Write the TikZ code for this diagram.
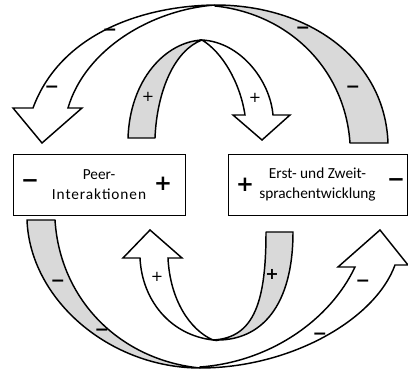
\documentclass[tikz,border=0pt]{standalone}
\usepackage{fontspec}
\setmainfont{Carlito}
\newfontfamily\signfont{DejaVu Sans}
\usetikzlibrary{positioning}

\begin{document}
\begin{tikzpicture}[
    x=0.75pt, y=-0.75pt,
    band/.style={draw, line width=1.1pt, line join=round, fill=gray!30},
    front/.style={draw, line width=1.1pt, line join=miter, fill=white},
    box/.style={rectangle, draw, thin, fill=white, minimum height=45.75pt, align=center, font=\fontsize{11.5}{14.5}\selectfont},
    bigsign/.style={font=\signfont\bfseries\fontsize{16}{16}\selectfont, inner sep=0pt},
    minus/.style={font=\signfont\bfseries\fontsize{13}{13}\selectfont, inner sep=0pt},
    plus/.style={font=\signfont\fontsize{11}{11}\selectfont, inner sep=0pt}
]
\useasboundingbox (0,0) rectangle (408,373);

% ================= TOP ARROWS =================
% outer ribbon: shaded back on the right, white front with head on the left
\draw[band] (215,5) .. controls (310,5) and (385,60) .. (388,143)
    -- (350,143) .. controls (345,70) and (290,14) .. (215,6) -- cycle;
\draw[front] (33,108) .. controls (60,35) and (140,6) .. (215,5)
    .. controls (150,10) and (85,50) .. (68,108)
    -- (82,108) -- (42,143) -- (13,108) -- cycle;

% inner ribbon: shaded on the left, head on the right
\draw[band] (128,138) .. controls (130,80) and (165,42) .. (202,40)
    .. controls (175,50) and (157,90) .. (155,138) -- cycle;
\draw[front] (202,40) .. controls (240,42) and (270,80) .. (273,115)
    -- (290,115) -- (262,140) -- (233,115) -- (245,115)
    .. controls (240,82) and (222,52) .. (202,40) -- cycle;

% ================= BOXES =================
\node[box, minimum width=129pt] (peer) at (99,184.5)
    {Peer-\\{\addfontfeatures{LetterSpace=6}Interaktionen}};
\node[box, minimum width=134pt] (sprache) at (317.5,184.5) {Erst- und Zweit-\\sprachentwicklung};

\node[bigsign] (peerminus) at (30,184) {−};
\node[bigsign] (peerplus) at (163,184) {+};
\node[bigsign] (spracheplus) at (245,185) {+};
\node[bigsign] (spracheminus) at (396,183) {−};

% ================= BOTTOM ARROWS =================
% outer ribbon: shaded on the left, head on the right
\draw[band] (27,220) .. controls (30,300) and (110,368) .. (200,368)
    .. controls (120,360) and (60,300) .. (55,220) -- cycle;
\draw[front] (200,368) .. controls (290,368) and (375,320) .. (395,265)
    -- (408,265) -- (380,230) -- (338,267) -- (355,267)
    .. controls (330,320) and (270,362) .. (200,367) -- cycle;

% inner ribbon: head on the left, shaded on the right
\draw[band] (213,340) .. controls (255,338) and (266,300) .. (266,232)
    -- (293,232) .. controls (293,305) and (262,342) .. (213,340) -- cycle;
\draw[front] (213,340) .. controls (170,335) and (142,300) .. (140,258)
    -- (123,258) -- (150,230) -- (182,258) -- (168,258)
    .. controls (170,300) and (190,330) .. (213,340) -- cycle;

% ================= RIBBON SIGNS =================
\node[minus] (m1) at (110,32) {−};
\node[minus] (m2) at (52,89) {−};
\node[minus] (m3) at (303,30) {−};
\node[minus] (m4) at (353,89) {−};
\node[plus] (p1) at (148,97) {+};
\node[plus] (p2) at (255,98) {+};

\node[minus] (m5) at (58,283) {−};
\node[minus] (m6) at (102,332) {−};
\node[plus] (p3) at (157,277) {+};
\node[bigsign, font=\signfont\bfseries\fontsize{12}{12}\selectfont] (p4) at (272,274) {+};
\node[minus] (m7) at (363,283) {−};
\node[minus] (m8) at (320,336) {−};

\end{tikzpicture}
\end{document}
